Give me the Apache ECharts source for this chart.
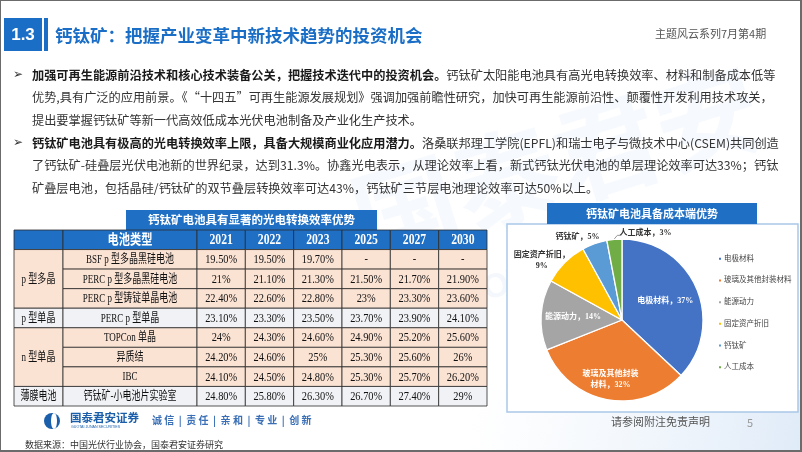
<!DOCTYPE html>
<html><head><meta charset="utf-8">
<script src="https://cdn.jsdelivr.net/npm/echarts@6/dist/echarts.min.js"></script>
<style>html,body{margin:0;padding:0;background:#fff}#c{width:802px;height:452px}</style>
</head><body><div id="c"></div>
<script>
// ---------- data ----------
const years = ['2021', '2022', '2023', '2025', '2027', '2030'];
const cellTypes = ['BSF p 型多晶黑硅电池', 'PERC p 型多晶黑硅电池', 'PERC p 型铸锭单晶电池', 'PERC p 型单晶', 'TOPCon 单晶', '异质结', 'IBC', '钙钛矿-小电池片实验室'];
const cellGroups = ['p 型多晶', 'p 型单晶', 'n 型单晶', '薄膜电池'];
const groupSpans = [3, 1, 3, 1];
const eff2021 = [19.5, 21, 22.4, 23.1, 24, 24.2, 24.1, 24.8];
const eff2022 = [19.5, 21.1, 22.6, 23.3, 24.3, 24.6, 24.5, 25.8];
const eff2023 = [19.7, 21.3, 22.8, 23.5, 24.6, 25, 24.8, 26.3];
const eff2025 = [null, 21.5, 23, 23.7, 24.9, 25.3, 25.3, 26.7];
const eff2027 = [null, 21.7, 23.3, 23.9, 25.2, 25.6, 25.7, 27.4];
const eff2030 = [null, 21.9, 23.6, 24.1, 25.6, 26, 26.2, 29];
const costNames = ['电极材料', '玻璃及其他封装材料', '能源动力', '固定资产折旧', '钙钛矿', '人工成本'];
const costShares = [37, 32, 14, 9, 5, 3];

// ---------- texts ----------
const titleText = '钙钛矿：把握产业变革中新技术趋势的投资机会';
const issueText = '主题风云系列7月第4期';
const tableTitle = '钙钛矿电池具有显著的光电转换效率优势';
const pieTitle = '钙钛矿电池具备成本端优势';
const typeHeader = '电池类型';
const sourceText = '数据来源：中国光伏行业协会，国泰君安证券研究';
const sloganText = '诚 信  |  责 任  |  亲 和  |  专 业  |  创 新';
const para1 = [
  [['b', '加强可再生能源前沿技术和核心技术装备公关，把握技术迭代中的投资机会。'], ['n', '钙钛矿太阳能电池具有高光电转换效率、材料和制备成本低等']],
  [['n', '优势,具有广泛的应用前景。《“十四五”可再生能源发展规划》强调加强前瞻性研究，加快可再生能源前沿性、颠覆性开发利用技术攻关，']],
  [['n', '提出要掌握钙钛矿等新一代高效低成本光伏电池制备及产业化生产技术。']]
];
const para2 = [
  [['b', '钙钛矿电池具有极高的光电转换效率上限，具备大规模商业化应用潜力。'], ['n', '洛桑联邦理工学院(EPFL)和瑞士电子与微技术中心(CSEM)共同创造']],
  [['n', '了钙钛矿-硅叠层光伏电池新的世界纪录，达到31.3%。协鑫光电表示，从理论效率上看，新式钙钛光伏电池的单层理论效率可达33%；钙钛']],
  [['n', '矿叠层电池，包括晶硅/钙钛矿的双节叠层转换效率可达43%，钙钛矿三节层电池理论效率可达50%以上。']]
];

// ---------- helpers ----------
const serif = '"Liberation Serif","Noto Sans CJK SC",serif';
const sans = '"Noto Sans CJK SC","Noto Sans",sans-serif';
const BLUE = '#1f6fc5';
const PINK = '#fbe3d4';
const GREY = '#f0f2f5';
const groupFill = [PINK, GREY, PINK, GREY];
const effByYear = [eff2021, eff2022, eff2023, eff2025, eff2027, eff2030];
const rowGroupOf = [];
groupSpans.forEach((n, g) => { for (let i = 0; i < n; i++) rowGroupOf.push(g); });
const fmtPct = v => v == null ? '-' : (Number.isInteger(v) ? v + '%' : v.toFixed(2) + '%');
const yCats = [typeHeader].concat(cellTypes);

const valueCells = [];
years.forEach((y, c) => {
  valueCells.push({ c: c, r: 0, text: y, header: true });
  cellTypes.forEach((t, r) => valueCells.push({ c: c, r: r + 1, text: fmtPct(effByYear[c][r]), g: rowGroupOf[r] }));
});
const typeCells = [{ r: 0, text: typeHeader, header: true }].concat(cellTypes.map((t, r) => ({ r: r + 1, text: t, g: rowGroupOf[r] })));
const groupCells = [{ start: 0, span: 1, text: '', header: true }];
let acc = 1;
cellGroups.forEach((name, g) => { groupCells.push({ start: acc, span: groupSpans[g], text: name, g: g }); acc += groupSpans[g]; });

function cellGroup(x, y, w, h, d, fontNormal, fontHeader, sx, sxHeader) {
  return {
    type: 'group', children: [
      { type: 'rect', shape: { x: x, y: y, width: w, height: h },
        style: { fill: d.header ? BLUE : groupFill[d.g], stroke: '#2b2b2b', lineWidth: 0.8 } },
      { type: 'text', x: x + w / 2, y: y + h / 2 + 0.5, scaleX: d.header ? sxHeader : sx,
        style: { text: d.text, font: d.header ? fontHeader : fontNormal, fill: d.header ? '#fff' : '#111',
          align: 'center', verticalAlign: 'middle' } }
    ]
  };
}

const gridTop = 230, gridH = 176;
const grids = [
  { left: 14, top: gridTop, width: 49, height: gridH },
  { left: 63, top: gridTop, width: 134, height: gridH },
  { left: 197, top: gridTop, width: 290, height: gridH }
];
const hiddenAxis = { show: false };
const xAxes = [
  Object.assign({ type: 'category', gridIndex: 0, data: ['分类'] }, hiddenAxis),
  Object.assign({ type: 'category', gridIndex: 1, data: [typeHeader] }, hiddenAxis),
  Object.assign({ type: 'category', gridIndex: 2, data: years }, hiddenAxis)
];
const yAxes = [0, 1, 2].map(i => Object.assign({ type: 'category', gridIndex: i, data: yCats, inverse: true }, hiddenAxis));

const tableSeries = [
  {
    type: 'custom', xAxisIndex: 0, yAxisIndex: 0, clip: false, silent: true,
    data: groupCells.map(d => [0, d.start, d.span]),
    renderItem: function (params, api) {
      const d = groupCells[params.dataIndex];
      const p = api.coord([0, api.value(1)]);
      const s = api.size([1, 1]);
      return cellGroup(p[0] - s[0] / 2, p[1] - s[1] / 2, s[0], s[1] * api.value(2), d,
        '12.5px ' + serif, 'bold 14px ' + serif, 0.72, 0.8);
    }
  },
  {
    type: 'custom', xAxisIndex: 1, yAxisIndex: 1, clip: false, silent: true,
    data: typeCells.map(d => [0, d.r]),
    renderItem: function (params, api) {
      const d = typeCells[params.dataIndex];
      const p = api.coord([0, api.value(1)]);
      const s = api.size([1, 1]);
      return cellGroup(p[0] - s[0] / 2, p[1] - s[1] / 2, s[0], s[1], d,
        '12.5px ' + serif, 'bold 14px ' + serif, 0.72, 0.8);
    }
  },
  {
    type: 'custom', xAxisIndex: 2, yAxisIndex: 2, clip: false, silent: true,
    data: valueCells.map(d => [d.c, d.r]),
    renderItem: function (params, api) {
      const d = valueCells[params.dataIndex];
      const p = api.coord([api.value(0), api.value(1)]);
      const s = api.size([1, 1]);
      return cellGroup(p[0] - s[0] / 2, p[1] - s[1] / 2, s[0], s[1], d,
        '13px ' + serif, 'bold 15px ' + serif, 0.8, 0.78);
    }
  }
];

// ---------- pie ----------
const pieColors = ['#4472c4', '#ed7d31', '#a5a5a5', '#ffc000', '#5b9bd5', '#70ad47'];
const pieCx = 622, pieCy = 320, pieR = 81;
const insideRadius = { 0: 47, 1: 61, 2: 49 };
const outsideOffset = { 3: [-23, -2], 4: [-17, -7], 5: [31, -6] };
const costTotal = costShares.reduce((a, b) => a + b, 0);
function midAngle(i) {
  let before = 0;
  for (let j = 0; j < i; j++) before += costShares[j];
  return (before + costShares[i] / 2) / costTotal * Math.PI * 2;
}
function polarPoint(i, r) {
  const a = midAngle(i);
  return [pieCx + r * Math.sin(a), pieCy - r * Math.cos(a)];
}
const pieData = costNames.map((n, i) => ({
  name: n, value: costShares[i],
  itemStyle: { color: pieColors[i] },
  label: i < 3 ? { position: 'inside', color: '#fff' } : { position: 'outside', color: '#333' }
}));
const leadStart = polarPoint(5, pieR + 0.5);

// ---------- graphic decorations & texts ----------
function bulletLines(lines, y0) {
  const out = [];
  lines.forEach((segs, li) => {
    out.push({
      type: 'text', x: 32, y: y0 + li * 22.5,
      style: {
        text: segs.map(s => '{' + s[0] + '|' + s[1] + '}').join(''),
        verticalAlign: 'middle',
        rich: {
          b: { font: 'bold 12.2px ' + sans, fill: '#1a1a1a' },
          n: { font: '12.2px ' + sans, fill: '#333' }
        }
      }
    });
  });
  out.push({ type: 'text', x: 13, y: y0, style: { text: '➢', font: '12px "DejaVu Sans"', fill: '#333', verticalAlign: 'middle' } });
  return out;
}

const graphics = [
  // faint watermark
  { type: 'text', x: 340, y: 175, rotation: 0.3, z: -10,
    style: { text: '国泰君安', font: 'bold 105px ' + sans, fill: 'rgba(200,220,242,0.16)' } },
  { type: 'text', x: 430, y: 290, rotation: 0.3, z: -10,
    style: { text: 'GUOTAI JUNAN', font: 'bold 34px "Liberation Sans"', fill: 'rgba(200,220,242,0.2)' } },
  { type: 'rect', x: 470, y: 390, shape: { width: 332, height: 62 }, z: -11,
    style: { fill: new echarts.graphic.LinearGradient(0, 0, 1, 1, [{ offset: 0, color: 'rgba(235,242,250,0)' }, { offset: 1, color: 'rgba(222,234,248,0.95)' }]) } },
  // slide border
  { type: 'rect', x: 0, y: 0, shape: { width: 801, height: 451 }, style: { fill: 'none', stroke: '#6b6b6b', lineWidth: 2 } },
  // header
  { type: 'rect', x: 4, y: 18, shape: { width: 38, height: 33 }, style: { fill: '#1a6ec6' } },
  { type: 'text', x: 23, y: 35, style: { text: '1.3', font: 'bold 17px "Liberation Sans"', fill: '#fff', align: 'center', verticalAlign: 'middle' } },
  { type: 'rect', x: 44, y: 18, shape: { width: 4, height: 33 }, style: { fill: '#1a6ec6' } },
  { type: 'text', x: 55, y: 35, style: { text: titleText, font: 'bold 17.5px ' + sans, fill: '#1a6ec6', verticalAlign: 'middle' } },
  { type: 'text', x: 655, y: 34, style: { text: issueText, font: '11px ' + sans, fill: '#555', verticalAlign: 'middle' } },
  // table title box
  { type: 'rect', x: 126, y: 210, shape: { width: 251, height: 20 }, style: { fill: BLUE } },
  { type: 'text', x: 251.5, y: 220, style: { text: tableTitle, font: 'bold 11.5px ' + sans, fill: '#fff', align: 'center', verticalAlign: 'middle' } },
  // pie frame & title
  { type: 'rect', x: 507, y: 224, shape: { width: 291, height: 188 }, style: { fill: '#fff', stroke: '#a9c8e8', lineWidth: 1.5 } },
  { type: 'rect', x: 547, y: 203, shape: { width: 210, height: 21 }, style: { fill: BLUE } },
  { type: 'text', x: 652, y: 213.5, style: { text: pieTitle, font: 'bold 11px ' + sans, fill: '#fff', align: 'center', verticalAlign: 'middle' } },
  // leader line of the smallest slice label
  { type: 'polyline', z: 50, shape: { points: [leadStart, [leadStart[0] + 3, leadStart[1] - 3.5], [leadStart[0] + 7, leadStart[1] - 3.5]] },
    style: { stroke: '#8c8c8c', lineWidth: 0.9, fill: 'none' } },
  // logo
  { type: 'circle', shape: { cx: 52, cy: 421, r: 8 }, style: { fill: '#1b5fab' } },
  { type: 'ellipse', shape: { cx: 54, cy: 421, rx: 3, ry: 8 }, style: { fill: '#fff' } },
  { type: 'text', x: 70, y: 418, style: { text: '国泰君安证券', font: 'bold 11.5px ' + sans, fill: '#1b5fab', verticalAlign: 'middle' } },
  { type: 'text', x: 71, y: 427, style: { text: 'GUOTAI JUNAN SECURITIES', font: '3.6px "Liberation Sans"', fill: '#1b5fab', verticalAlign: 'middle' } },
  { type: 'text', x: 152, y: 420, style: { text: sloganText, font: 'bold 10px ' + sans, fill: '#3a6fb5', verticalAlign: 'middle' } },
  { type: 'text', x: 25, y: 445, style: { text: sourceText, font: '9px ' + sans, fill: '#333', verticalAlign: 'middle' } },
  // footer
  { type: 'text', x: 611, y: 422, style: { text: '请参阅附注免责声明', font: '11px ' + sans, fill: '#555', verticalAlign: 'middle' } },
  { type: 'text', x: 747, y: 423, style: { text: '5', font: '11px ' + sans, fill: '#999', verticalAlign: 'middle' } }
].concat(bulletLines(para1, 75)).concat(bulletLines(para2, 143));

const chart = echarts.init(document.getElementById('c'));
chart.setOption({
  animation: false,
  backgroundColor: '#fff',
  graphic: { elements: graphics },
  grid: grids,
  xAxis: xAxes,
  yAxis: yAxes,
  legend: {
    orient: 'vertical', left: 712, top: 250, itemWidth: 4, itemHeight: 4, itemGap: 14.2, icon: 'rect',
    data: costNames, selectedMode: false,
    textStyle: { fontSize: 7.5, fontFamily: serif, color: '#444', padding: [0, 0, 0, -3] }
  },
  series: tableSeries.concat([{
    type: 'pie', center: [pieCx, pieCy], radius: pieR, startAngle: 90, clockwise: true,
    avoidLabelOverlap: false, silent: true,
    itemStyle: { borderColor: '#fff', borderWidth: 1.3 },
    label: { show: true, formatter: '{b}，{c}%', fontSize: 8, fontFamily: serif, fontWeight: 'bold',
      width: 58, overflow: 'break', lineHeight: 11, align: 'center' },
    labelLine: { show: false, length: 5, length2: 3 },
    labelLayout: function (params) {
      const i = params.dataIndex;
      let p;
      if (insideRadius[i] != null) {
        p = polarPoint(i, insideRadius[i]);
      } else {
        const o = polarPoint(i, pieR);
        p = [o[0] + outsideOffset[i][0], o[1] + outsideOffset[i][1]];
      }
      return { x: p[0], y: p[1], align: 'center', verticalAlign: 'middle' };
    },
    data: pieData
  }])
});
</script></body></html>
